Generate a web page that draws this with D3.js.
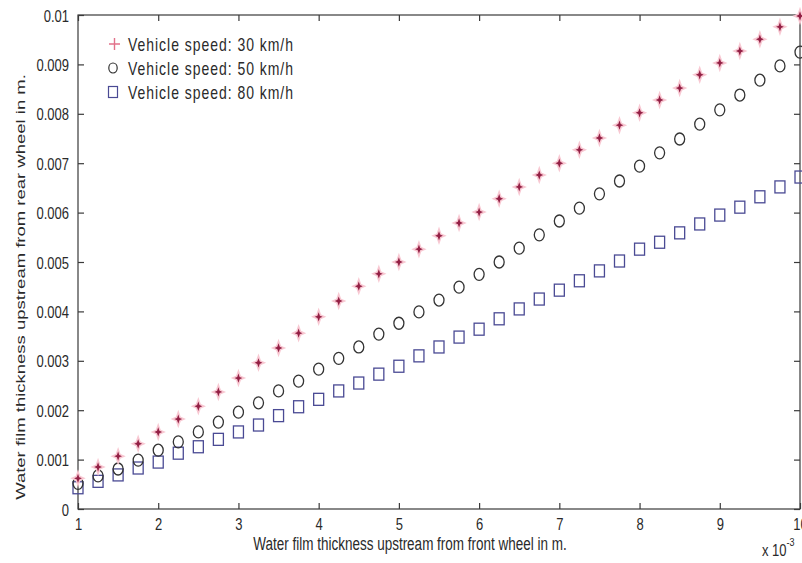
<!DOCTYPE html>
<html>
<head>
<meta charset="utf-8">
<script src="https://cdn.jsdelivr.net/npm/d3@7/dist/d3.min.js"></script>
<style>
  html, body { margin: 0; padding: 0; background: #fff; }
  svg { display: block; }
  text { font-family: "Liberation Sans", Arial, sans-serif; fill: #2a2a2a; }
</style>
</head>
<body>
<svg id="chart" width="802" height="563"></svg>
<script>
// ---- data ----
const xValues = [1, 1.25, 1.5, 1.75, 2, 2.25, 2.5, 2.75, 3, 3.25, 3.5, 3.75, 4, 4.25, 4.5, 4.75, 5,
  5.25, 5.5, 5.75, 6, 6.25, 6.5, 6.75, 7, 7.25, 7.5, 7.75, 8, 8.25, 8.5, 8.75, 9, 9.25, 9.5, 9.75, 10];

const speed30 = [0.00062, 0.00085, 0.00107, 0.00132, 0.00156, 0.00182, 0.00208, 0.00237, 0.00265,
  0.00296, 0.00326, 0.00356, 0.00389, 0.00421, 0.00451, 0.00476, 0.00500, 0.00526, 0.00553,
  0.00579, 0.00601, 0.00628, 0.00652, 0.00676, 0.00700, 0.00727, 0.00751, 0.00777, 0.00802,
  0.00828, 0.00852, 0.00879, 0.00903, 0.00927, 0.00951, 0.00976, 0.00998];

const speed50 = [0.00052, 0.00067, 0.00081, 0.00099, 0.00119, 0.00136, 0.00156, 0.00176, 0.00196,
  0.00215, 0.00239, 0.00259, 0.00283, 0.00305, 0.00328, 0.00354, 0.00376, 0.00399, 0.00423,
  0.00449, 0.00475, 0.00500, 0.00528, 0.00555, 0.00583, 0.00609, 0.00638, 0.00664, 0.00694,
  0.00721, 0.00749, 0.00779, 0.00808, 0.00838, 0.00868, 0.00897, 0.00925];

const speed80 = [0.00043, 0.00056, 0.00069, 0.00083, 0.00095, 0.00113, 0.00126, 0.00141, 0.00156,
  0.00170, 0.00189, 0.00207, 0.00222, 0.00239, 0.00255, 0.00273, 0.00289, 0.00310, 0.00328,
  0.00348, 0.00364, 0.00385, 0.00405, 0.00425, 0.00443, 0.00462, 0.00482, 0.00502, 0.00526,
  0.00540, 0.00559, 0.00577, 0.00595, 0.00611, 0.00632, 0.00652, 0.00672];

const seriesNames = ["Vehicle speed: 30 km/h", "Vehicle speed: 50 km/h", "Vehicle speed: 80 km/h"];

const xTicks = [1, 2, 3, 4, 5, 6, 7, 8, 9, 10];
const xTickLabels = ["1", "2", "3", "4", "5", "6", "7", "8", "9", "10"];
const yTicks = [0, 0.001, 0.002, 0.003, 0.004, 0.005, 0.006, 0.007, 0.008, 0.009, 0.01];
const yTickLabels = ["0", "0.001", "0.002", "0.003", "0.004", "0.005", "0.006", "0.007", "0.008", "0.009", "0.01"];

const xTitle = "Water film thickness upstream from front wheel in m.";
const yTitle = "Water film thickness upstream from rear wheel in m.";
const xExponentBase = "x 10";
const xExponent = "-3";

// ---- layout ----
const M = { left: 78, top: 15, right: 800, bottom: 509 };
const VS = 1.3; // vertical stretch of text in the reference

const svg = d3.select("#chart");
const x = d3.scaleLinear().domain([1, 10]).range([M.left, M.right]);
const y = d3.scaleLinear().domain([0, 0.01]).range([M.bottom, M.top]);

// box
svg.append("rect")
  .attr("x", M.left).attr("y", M.top)
  .attr("width", M.right - M.left).attr("height", M.bottom - M.top)
  .attr("fill", "none").attr("stroke", "#3a3a3a").attr("stroke-width", 1.2);

const tickLen = 6;
const gx = svg.append("g").attr("transform", `translate(0,${M.bottom})`)
  .call(d3.axisBottom(x).tickValues(xTicks).tickSize(-tickLen).tickPadding(0)
    .tickFormat((d, i) => xTickLabels[i]));
const gxt = svg.append("g").attr("transform", `translate(0,${M.top})`)
  .call(d3.axisTop(x).tickValues(xTicks).tickSize(-tickLen).tickFormat(""));
const gy = svg.append("g").attr("transform", `translate(${M.left},0)`)
  .call(d3.axisLeft(y).tickValues(yTicks).tickSize(-tickLen).tickPadding(9)
    .tickFormat((d, i) => yTickLabels[i]));
const gyr = svg.append("g").attr("transform", `translate(${M.right},0)`)
  .call(d3.axisRight(y).tickValues(yTicks).tickSize(-tickLen).tickFormat(""));

[gx, gxt, gy, gyr].forEach(g => {
  g.select(".domain").remove();
  g.selectAll("line").attr("stroke", "#3a3a3a").attr("stroke-width", 1.2);
  g.selectAll("text").attr("font-size", 13).attr("font-family", "Liberation Sans, Arial, sans-serif")
    .attr("fill", "#333");
});
gx.selectAll("text")
  .attr("y", null).attr("dy", null)
  .attr("dominant-baseline", "central")
  .attr("transform", `translate(0,14.5) scale(1,${VS})`);
gy.selectAll("text")
  .attr("dy", null)
  .attr("dominant-baseline", "central")
  .attr("transform", function() {
    const tx = +d3.select(this).attr("x");
    d3.select(this).attr("x", 0);
    return `translate(${tx},0) scale(1,${VS})`;
  });

// titles
svg.append("text")
  .attr("text-anchor", "middle").attr("dominant-baseline", "central")
  .attr("font-size", 13.5)
  .attr("transform", `translate(410,543.5) scale(1,${VS})`)
  .text(xTitle);

svg.append("text")
  .attr("text-anchor", "middle").attr("dominant-baseline", "central")
  .attr("font-size", 13.5)
  .attr("transform", `translate(19.5,287) scale(1,1.37) rotate(-90)`)
  .text(yTitle);

const expText = svg.append("text")
  .attr("font-size", 13).attr("dominant-baseline", "central")
  .attr("transform", `translate(762,549.5) scale(1,${VS})`);
expText.append("tspan").text(xExponentBase);
expText.append("tspan").attr("font-size", 9).attr("dy", -6).text(xExponent);

// ---- markers ----
const starPath = (() => {
  const o = 5.2, oy = 6.2, i = 1.6;
  return `M0,${-oy} L${i},${-i} L${o},0 L${i},${i} L0,${oy} L${-i},${i} L${-o},0 L${-i},${-i} Z`;
})();

const s30 = xValues.map((d, k) => ({ x: d, y: speed30[k] }));
const s50 = xValues.map((d, k) => ({ x: d, y: speed50[k] }));
const s80 = xValues.map((d, k) => ({ x: d, y: speed80[k] }));

svg.append("g").selectAll("rect").data(s80).join("rect")
  .attr("x", d => x(d.x) - 5).attr("y", d => y(d.y) - 6)
  .attr("width", 10).attr("height", 12)
  .attr("fill", "none").attr("stroke", "#4a4a94").attr("stroke-width", 1.3);

svg.append("g").selectAll("ellipse").data(s50).join("ellipse")
  .attr("cx", d => x(d.x)).attr("cy", d => y(d.y))
  .attr("rx", 5).attr("ry", 6)
  .attr("fill", "none").attr("stroke", "#333").attr("stroke-width", 1.3);

const g30 = svg.append("g");
g30.selectAll("path.halo").data(s30).join("path")
  .attr("class", "halo")
  .attr("transform", d => `translate(${x(d.x)},${y(d.y)})`)
  .attr("d", starPath)
  .attr("fill", "#f4b0bf").attr("stroke", "#f8c8d2").attr("stroke-width", 2);
g30.selectAll("path.core").data(s30).join("path")
  .attr("class", "core")
  .attr("transform", d => `translate(${x(d.x)},${y(d.y)}) scale(0.75)`)
  .attr("d", starPath)
  .attr("fill", "#932045");

// ---- legend ----
const legY = [44, 68, 92];
const leg = svg.append("g");
leg.append("path")
  .attr("d", `M109,${legY[0]} H120 M114.5,${legY[0] - 6} V${legY[0] + 6}`)
  .attr("stroke", "#e2728a").attr("stroke-width", 1.4);
leg.append("ellipse")
  .attr("cx", 113).attr("cy", legY[1]).attr("rx", 4.2).attr("ry", 5)
  .attr("fill", "none").attr("stroke", "#333").attr("stroke-width", 1.2);
leg.append("rect")
  .attr("x", 108.5).attr("y", legY[2] - 5.5).attr("width", 9).attr("height", 11)
  .attr("fill", "none").attr("stroke", "#4a4a94").attr("stroke-width", 1.2);
leg.selectAll("text").data(seriesNames).join("text")
  .attr("font-size", 14)
  .attr("dominant-baseline", "central")
  .attr("textLength", 165).attr("lengthAdjust", "spacing")
  .attr("fill", "#333")
  .attr("transform", (d, i) => `translate(128,${legY[i]}) scale(1,${VS})`)
  .text(d => d);
</script>
</body>
</html>
